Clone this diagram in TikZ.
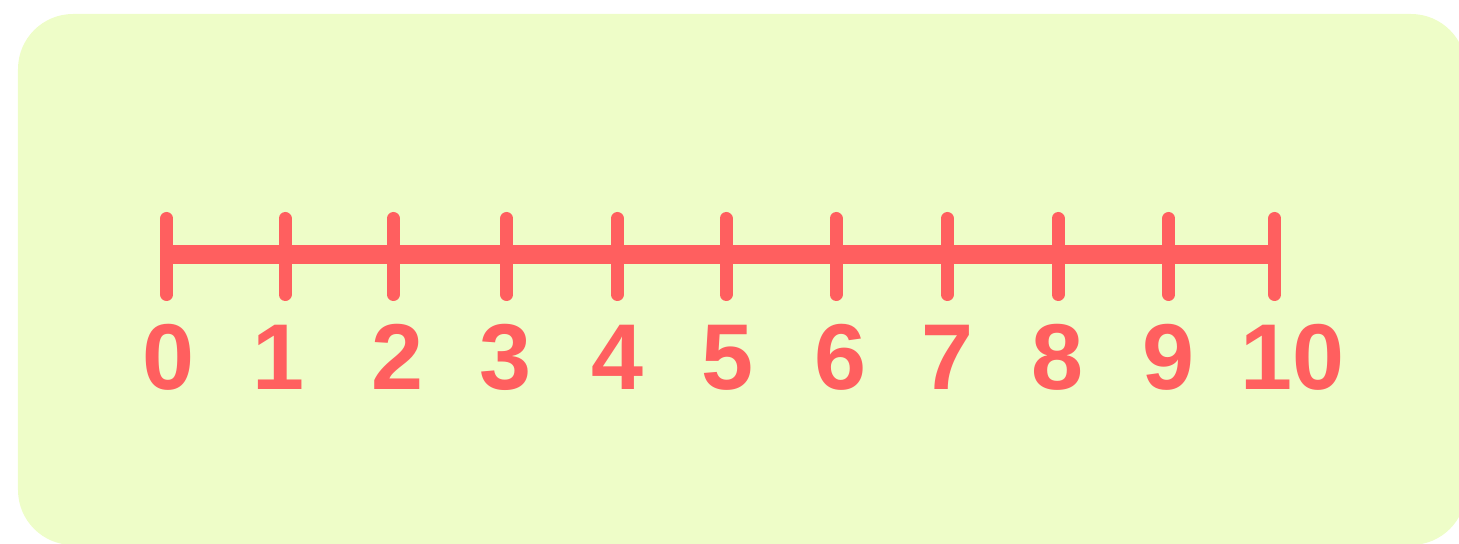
\documentclass[tikz,border=0pt]{standalone}
\usepackage{fontspec}
\setmainfont{Liberation Sans}
\usepackage{tikz}
\definecolor{numred}{HTML}{FF5F5F}
\definecolor{bggreen}{HTML}{EEFDC8}
\tikzset{tickmark/.style={draw=numred,line width=0.13cm,line cap=round},
	numlabel/.style={anchor=base,text=numred,font=\fontsize{26.6}{30}\selectfont\bfseries,inner sep=0pt}}
\begin{document}
\begin{tikzpicture}
		\clip (0,0) rectangle (14.59,5.43);
		\fill[bggreen,rounded corners=0.55cm] (0.18,-0.02) rectangle (14.66,5.29);
		\foreach \t/\x/\lx in {0/1.667/1.68,1/2.85/2.78,2/3.933/3.97,3/5.067/5.05,4/6.173/6.17,5/7.26/7.27,6/8.36/8.40,7/9.473/9.47,8/10.58/10.57,9/11.687/11.68,10/12.747/12.92}{
			\coordinate (t\t) at (\x,2.885);
			\draw[tickmark] (\x,3.245) -- (\x,2.485);
			\node[numlabel] (n\t) at (\lx,1.53) {\t};
		}
		\draw[numred,line width=0.19cm] (t0) -- (t10);
	\end{tikzpicture}
\end{document}
